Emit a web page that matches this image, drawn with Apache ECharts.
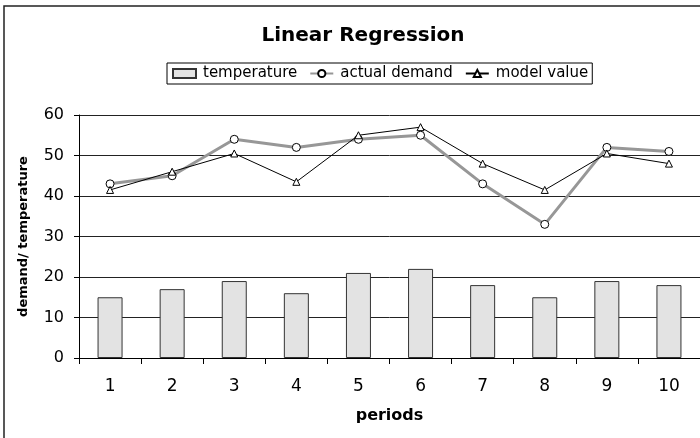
<!DOCTYPE html>
<html>
<head>
<meta charset="utf-8">
<script src="https://cdn.jsdelivr.net/npm/echarts@6/dist/echarts.min.js"></script>
<style>
  html, body { margin: 0; padding: 0; background: #fff; }
  #chart { width: 700px; height: 438px; }
</style>
</head>
<body>
<div id="chart"></div>
<script>
// Period numbers along the x axis
const periods = ['1', '2', '3', '4', '5', '6', '7', '8', '9', '10'];
// Temperature per period (bars)
const temperature = [15, 17, 19, 16, 21, 22, 18, 15, 19, 18];
// Observed demand per period
const actualDemand = [43, 45, 54, 52, 54, 55, 43, 33, 52, 51];
// Fitted values from the regression model
const modelValue = [41.5, 46, 50.5, 43.5, 55, 57, 48, 41.5, 50.5, 48];
// Value axis ticks
const yTicks = { min: 0, max: 60, interval: 10 };

const FONT = '"DejaVu Sans", "Liberation Sans", Arial, sans-serif';

const chart = echarts.init(document.getElementById('chart'), null, { renderer: 'canvas' });

chart.setOption({
  animation: false,
  backgroundColor: '#fff',
  textStyle: { fontFamily: FONT, color: '#000' },
  graphic: [
    {
      // outer chart frame (runs past the right and bottom edges)
      type: 'rect',
      shape: { x: 4, y: 6, width: 760, height: 500 },
      style: { fill: 'none', stroke: '#222', lineWidth: 1.5 },
      silent: true,
      z: -1
    }
  ],
  title: {
    text: 'Linear Regression',
    left: 358,
    textAlign: 'center',
    top: 21,
    textStyle: { fontFamily: FONT, fontSize: 20, fontWeight: 'bold', color: '#000' }
  },
  legend: {
    left: 167,
    top: 63,
    padding: [3, 4, 3, 5],
    borderColor: '#000',
    borderWidth: 1,
    borderRadius: 0,
    itemGap: 12,
    itemWidth: 23,
    itemHeight: 9,
    textStyle: { fontFamily: FONT, fontSize: 15, color: '#000', padding: [0, 0, 0, 2] },
    data: [
      { name: 'temperature', icon: 'rect' },
      { name: 'actual demand' },
      { name: 'model value' }
    ]
  },
  grid: {
    left: 79,
    top: 115,
    width: 624,
    height: 243,
    containLabel: false
  },
  xAxis: {
    type: 'category',
    data: periods,
    name: 'periods',
    nameLocation: 'middle',
    nameGap: 50,
    nameTextStyle: { fontFamily: FONT, fontSize: 16, fontWeight: 'bold', color: '#000' },
    axisLine: { lineStyle: { color: '#000', width: 1 } },
    axisTick: { show: true, alignWithLabel: false, length: 6, lineStyle: { color: '#000' } },
    axisLabel: { fontFamily: FONT, fontSize: 17, color: '#000', margin: 20 },
    splitLine: { show: false }
  },
  yAxis: {
    type: 'value',
    min: yTicks.min,
    max: yTicks.max,
    interval: yTicks.interval,
    name: 'demand/ temperature',
    nameLocation: 'middle',
    nameGap: 49,
    nameRotate: 90,
    nameTextStyle: { fontFamily: FONT, fontSize: 13, fontWeight: 'bold', color: '#000' },
    axisLine: { show: true, lineStyle: { color: '#000', width: 1 } },
    axisTick: { show: true, length: 5, inside: false, lineStyle: { color: '#000' } },
    axisLabel: { fontFamily: FONT, fontSize: 16, color: '#000', margin: 15 },
    splitLine: { show: true, lineStyle: { color: '#222', width: 1 } }
  },
  series: [
    {
      name: 'temperature',
      type: 'bar',
      data: temperature,
      barWidth: 25,
      itemStyle: { color: '#e3e3e3', borderColor: '#333', borderWidth: 1 },
      z: 1
    },
    {
      name: 'actual demand',
      type: 'line',
      data: actualDemand,
      symbol: 'circle',
      symbolSize: 8,
      lineStyle: { color: '#979797', width: 3 },
      itemStyle: { color: '#fff', borderColor: '#000', borderWidth: 1 },
      z: 3
    },
    {
      name: 'model value',
      type: 'line',
      data: modelValue,
      symbol: 'triangle',
      symbolSize: 7,
      lineStyle: { color: '#000', width: 1 },
      itemStyle: { color: '#fff', borderColor: '#000', borderWidth: 1 },
      z: 4
    }
  ]
});
</script>
</body>
</html>
